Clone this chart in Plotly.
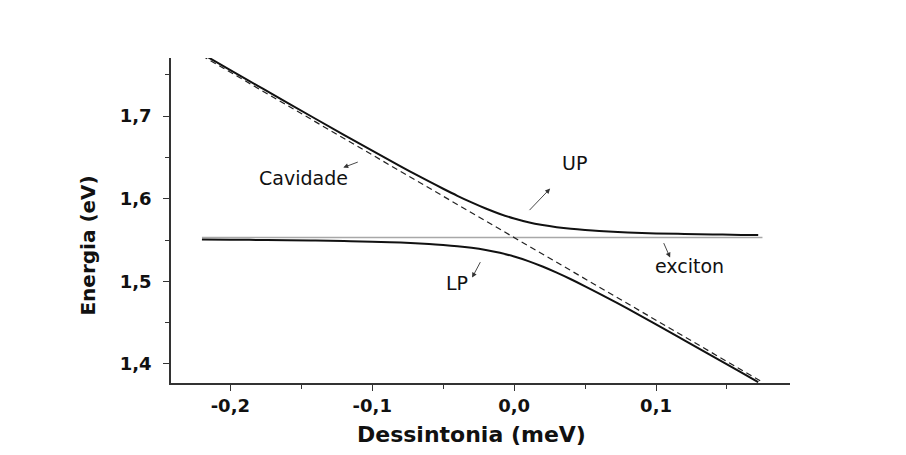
import plotly.graph_objects as go

# Detuning (x) grid and polariton energies
detuning = [-0.22, -0.20, -0.18, -0.16, -0.14, -0.12, -0.10, -0.08, -0.06, -0.05,
            -0.04, -0.03, -0.02, -0.01, 0.0, 0.01, 0.02, 0.03, 0.04, 0.05,
            0.06, 0.08, 0.10, 0.12, 0.14, 0.16, 0.172]
upper_polariton = [1.7754, 1.7556, 1.7359, 1.7162, 1.6967, 1.6773, 1.6580, 1.6391, 1.6208, 1.6120,
                   1.6035, 1.5955, 1.5881, 1.5815, 1.5760, 1.5715, 1.5681, 1.5655, 1.5635, 1.5620,
                   1.5608, 1.5591, 1.5580, 1.5573, 1.5567, 1.5562, 1.5560]
lower_polariton = [1.5506, 1.5504, 1.5501, 1.5498, 1.5493, 1.5487, 1.5480, 1.5469, 1.5452, 1.5440,
                   1.5425, 1.5405, 1.5379, 1.5345, 1.5300, 1.5245, 1.5179, 1.5105, 1.5025, 1.4940,
                   1.4852, 1.4669, 1.4480, 1.4287, 1.4093, 1.3898, 1.3780]
cavity_x = [-0.22, 0.175]
cavity_y = [1.773, 1.378]
exciton_x = [-0.22, 0.175]
exciton_y = [1.553, 1.553]

x_tickvals = [-0.2, -0.1, 0.0, 0.1]
x_ticktext = ["-0,2", "-0,1", "0,0", "0,1"]
x_minor = [-0.15, -0.05, 0.05, 0.15]
y_tickvals = [1.4, 1.5, 1.6, 1.7]
y_ticktext = ["1,4", "1,5", "1,6", "1,7"]
y_minor = [1.45, 1.55, 1.65, 1.75]

FONT = "DejaVu Sans"

fig = go.Figure()
fig.add_trace(go.Scatter(x=exciton_x, y=exciton_y, mode="lines",
                         line=dict(color="#a8a8a8", width=1.6), hoverinfo="skip"))
fig.add_trace(go.Scatter(x=cavity_x, y=cavity_y, mode="lines",
                         line=dict(color="#222222", width=1.2, dash="6px,4px"), hoverinfo="skip"))
fig.add_trace(go.Scatter(x=detuning, y=upper_polariton, mode="lines",
                         line=dict(color="#111111", width=2, shape="spline"), hoverinfo="skip"))
fig.add_trace(go.Scatter(x=detuning, y=lower_polariton, mode="lines",
                         line=dict(color="#111111", width=2, shape="spline"), hoverinfo="skip"))

axis_common = dict(showline=True, linecolor="#333333", linewidth=1.5, showgrid=False,
                   zeroline=False, ticks="outside", ticklen=6, tickwidth=1.3,
                   tickcolor="#333333", mirror=False,
                   tickfont=dict(family=FONT, size=18, color="#111111", weight="bold"))

fig.update_xaxes(range=[-0.2418, 0.1944], tickvals=x_tickvals, ticktext=x_ticktext,
                 minor=dict(tickvals=x_minor, ticks="outside", ticklen=4, tickcolor="#333333"),
                 ticklabelstandoff=0, **axis_common)
fig.update_yaxes(range=[1.377, 1.7702], tickvals=y_tickvals, ticktext=y_ticktext,
                 minor=dict(tickvals=y_minor, ticks="outside", ticklen=4, tickcolor="#333333"),
                 ticklabelstandoff=8, **axis_common)

ann = []
# axis titles
ann.append(dict(text="Dessintonia (meV)", xref="paper", yref="paper", x=0.485, y=-0.159,
                xanchor="center", yanchor="middle", showarrow=False,
                font=dict(family=FONT, size=22, color="#111111", weight="bold")))
ann.append(dict(text="Energia (eV)", xref="paper", yref="paper", x=-0.1335, y=0.424,
                xanchor="center", yanchor="middle", textangle=-90, showarrow=False,
                font=dict(family=FONT, size=20, color="#111111", weight="bold")))

labels = [("Cavidade", -0.1486, 1.6256), ("UP", 0.0423, 1.6437),
          ("LP", -0.0401, 1.4984), ("exciton", 0.1239, 1.5190)]
for t, x, y in labels:
    ann.append(dict(text=t, x=x, y=y, xref="x", yref="y", showarrow=False,
                    xanchor="center", yanchor="middle",
                    font=dict(family=FONT, size=19, color="#111111")))

arrows = [(-0.1204, 1.6377, 16, -6), (0.02535, 1.6122, -22, 23),
          (-0.0296, 1.5045, 9, -17), (0.1099, 1.5287, -7, -16)]
for x, y, ax, ay in arrows:
    ann.append(dict(text="", x=x, y=y, xref="x", yref="y", ax=ax, ay=ay,
                    showarrow=True, arrowhead=2, arrowsize=1.1, arrowwidth=0.9,
                    arrowcolor="#333333"))

fig.update_layout(width=906, height=455, margin=dict(l=171, r=116, t=58, b=72),
                  paper_bgcolor="white", plot_bgcolor="white", showlegend=False,
                  annotations=ann)

fig.write_html("out.html")
